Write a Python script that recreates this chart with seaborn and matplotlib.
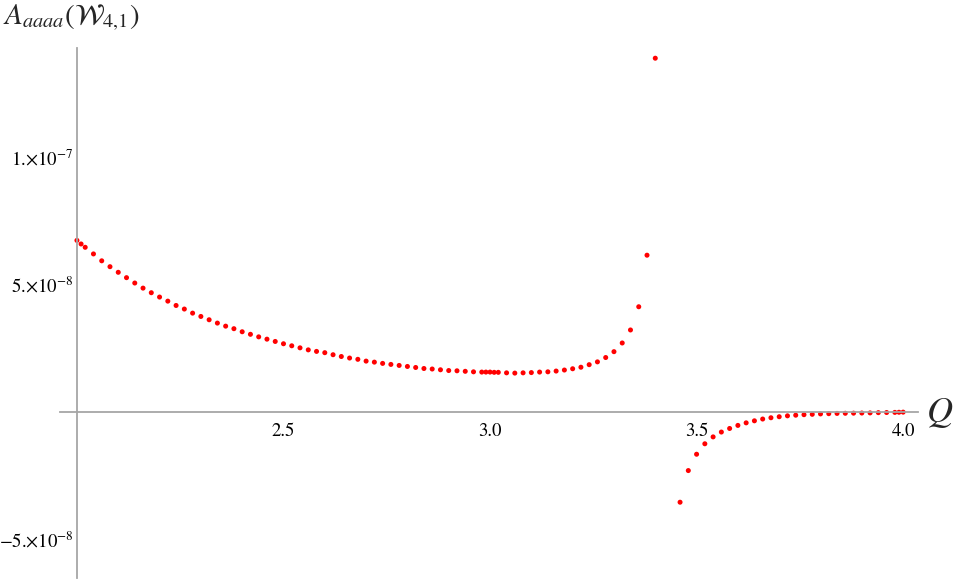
import matplotlib
matplotlib.use("Agg")
import matplotlib.pyplot as plt
import seaborn as sns
import pandas as pd
from matplotlib.ticker import FixedLocator, MultipleLocator

# ---- data (A in units of 1e-8) ----
Q = [2.00, 2.01, 2.02, 2.04, 2.06, 2.08, 2.10, 2.12, 2.14, 2.16, 2.18, 2.20,
     2.22, 2.24, 2.26, 2.28, 2.30, 2.32, 2.34, 2.36, 2.38, 2.40, 2.42, 2.44,
     2.46, 2.48, 2.50, 2.52, 2.54, 2.56, 2.58, 2.60, 2.62, 2.64, 2.66, 2.68,
     2.70, 2.72, 2.74, 2.76, 2.78, 2.80, 2.82, 2.84, 2.86, 2.88, 2.90, 2.92,
     2.94, 2.96, 2.98, 2.99, 3.00, 3.01, 3.02, 3.04, 3.06, 3.08, 3.10, 3.12,
     3.14, 3.16, 3.18, 3.20, 3.22, 3.24, 3.26, 3.28, 3.30, 3.32, 3.34, 3.36,
     3.38, 3.40, 3.46, 3.48, 3.50, 3.52, 3.54, 3.56, 3.58, 3.60, 3.62, 3.64,
     3.66, 3.68, 3.70, 3.72, 3.74, 3.76, 3.78, 3.80, 3.82, 3.84, 3.86, 3.88,
     3.90, 3.92, 3.94, 3.96, 3.98, 3.99, 4.00]
A_e8 = [6.73, 6.59, 6.46, 6.20, 5.93, 5.70, 5.48, 5.27, 5.06, 4.86, 4.68, 4.51,
        4.35, 4.18, 4.04, 3.88, 3.75, 3.62, 3.49, 3.37, 3.27, 3.15, 3.05, 2.95,
        2.86, 2.77, 2.68, 2.60, 2.52, 2.44, 2.38, 2.33, 2.25, 2.18, 2.12, 2.07,
        2.00, 1.96, 1.91, 1.87, 1.83, 1.79, 1.75, 1.71, 1.69, 1.66, 1.63, 1.62,
        1.60, 1.58, 1.57, 1.57, 1.57, 1.56, 1.56, 1.54, 1.53, 1.54, 1.55, 1.57,
        1.58, 1.61, 1.65, 1.70, 1.76, 1.86, 1.97, 2.14, 2.37, 2.71, 3.22, 4.13,
        6.15, 13.87, -3.53, -2.29, -1.65, -1.24, -0.97, -0.78, -0.64, -0.52, -0.42, -0.34,
        -0.27, -0.22, -0.18, -0.145, -0.12, -0.10, -0.085, -0.07, -0.06, -0.05, -0.045, -0.04,
        -0.035, -0.03, -0.02, -0.015, -0.01, -0.005, 0.0]
A = [v * 1e-8 for v in A_e8]

x_ticks = [2.5, 3.0, 3.5, 4.0]
x_tick_labels = ["2.5", "3.0", "3.5", "4.0"]
y_ticks = [-5e-8, 5e-8, 1e-7]
y_tick_labels = ["\u22125.\u00d710$^{-8}$", "5.\u00d710$^{-8}$", "1.\u00d710$^{-7}$"]

df = pd.DataFrame({"Q": Q, "A": A})

sns.set_style("white")
plt.rcParams["font.family"] = ["STIXGeneral", "DejaVu Serif"]
plt.rcParams["mathtext.fontset"] = "stix"

W, H = 955, 579
fig = plt.figure(figsize=(W / 100, H / 100), dpi=100)
# axes spans pixel x 60..918, y 48..578
ax = fig.add_axes([60 / W, 1 / H, (918 - 60) / W, (578 - 48) / H])

sns.scatterplot(data=df, x="Q", y="A", ax=ax, color="#ff0000", s=13,
                linewidth=0, edgecolor="none", legend=False)

ax.set_xlim(1.959, 4.036)
ax.set_ylim(-6.5e-8, 14.27e-8)

for s in ["top", "right"]:
    ax.spines[s].set_visible(False)
ax.spines["left"].set_position(("data", 2.0))
ax.spines["bottom"].set_position(("data", 0.0))
for s in ["left", "bottom"]:
    ax.spines[s].set_color("#a6a6a6")
    ax.spines[s].set_linewidth(1.3)

ax.xaxis.set_major_locator(FixedLocator(x_ticks))
ax.set_xticklabels(x_tick_labels)
ax.xaxis.set_minor_locator(MultipleLocator(0.1))
ax.yaxis.set_major_locator(FixedLocator(y_ticks))
ax.set_yticklabels(y_tick_labels)
ax.yaxis.set_minor_locator(MultipleLocator(1e-8))

ax.tick_params(axis="both", which="major", direction="in", length=6.2, width=0.8,
               color="#555555", labelsize=13.5, labelcolor="black")
ax.tick_params(axis="both", which="minor", direction="in", length=3.8, width=0.8,
               color="#555555")
ax.tick_params(axis="x", which="major", pad=8)
ax.tick_params(axis="y", which="major", pad=2.5)

ax.set_xlabel("")
ax.set_ylabel("")
ax.grid(False)

fig.text(3 / W, 1 - 18 / H, r"$A_{aaaa}(\mathcal{W}_{4{,}1})$", ha="left", va="center",
         fontsize=21)
fig.text(940 / W, 1 - 413 / H, r"$Q$", ha="center", va="center", fontsize=26)

fig.savefig("out.png", dpi=100)
